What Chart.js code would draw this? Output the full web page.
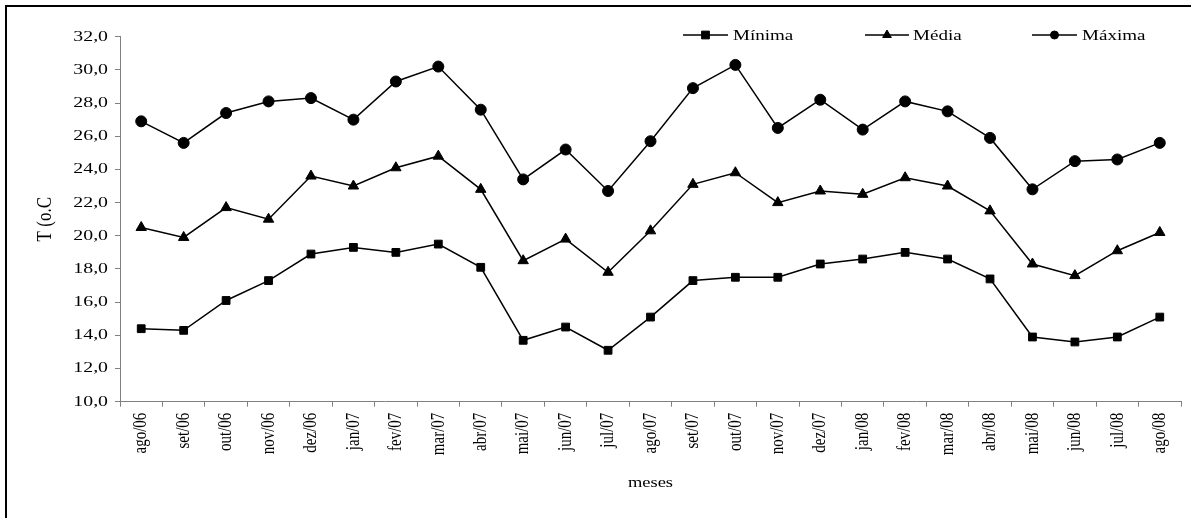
<!DOCTYPE html>
<html>
<head>
<meta charset="utf-8">
<script src="https://cdn.jsdelivr.net/npm/chart.js@4/dist/chart.umd.min.js"></script>
<style>
  html, body { margin: 0; padding: 0; background: #fff; }
  #frame { position: absolute; left: 5px; top: 5px; width: 1200px; height: 530px; border: 2px solid #000; box-sizing: border-box; }
  #wrap { position: absolute; left: 0; top: 0; width: 1191px; height: 518px; }
</style>
</head>
<body>
<div id="frame"></div>
<div id="wrap"><canvas id="c" width="1191" height="518"></canvas></div>
<script>
const categories = ['ago/06','set/06','out/06','nov/06','dez/06','jan/07','fev/07','mar/07','abr/07','mai/07','jun/07','jul/07','ago/07','set/07','out/07','nov/07','dez/07','jan/08','fev/08','mar/08','abr/08','mai/08','jun/08','jul/08','ago/08'];
const minima = [14.4,14.3,16.1,17.3,18.9,19.3,19.0,19.5,18.1,13.7,14.5,13.1,15.1,17.3,17.5,17.5,18.3,18.6,19.0,18.6,17.4,13.9,13.6,13.9,15.1];
const media  = [20.5,19.9,21.7,21.0,23.6,23.0,24.1,24.8,22.8,18.5,19.8,17.8,20.3,23.1,23.8,22.0,22.7,22.5,23.5,23.0,21.5,18.3,17.6,19.1,20.2];
const maxima = [26.9,25.6,27.4,28.1,28.3,27.0,29.3,30.2,27.6,23.4,25.2,22.7,25.7,28.9,30.3,26.5,28.2,26.4,28.1,27.5,25.9,22.8,24.5,24.6,25.6];
const seriesNames = ['Mínima','Média','Máxima'];
const yAxisTitle = 'T (o.C';
const xAxisTitle = 'meses';

const FONT = "'Liberation Serif', 'Times New Roman', serif";
const AXIS_GREY = '#808080';

// draw fn with a horizontal stretch about x = cx
function stretched(ctx, cx, sx, fn) {
  ctx.save();
  ctx.translate(cx, 0);
  ctx.scale(sx, 1);
  ctx.translate(-cx, 0);
  fn();
  ctx.restore();
}

const patchPlugin = {
  id: 'patch',
  afterLayout(chart) {
    const y = chart.scales.y, x = chart.scales.x;
    if (!y._patched) {
      const oL = y.drawLabels;
      y.drawLabels = function (a) {
        const ax = this.right - this.options.grid.tickLength - this.options.ticks.padding;
        stretched(this.ctx, ax, 1.32, () => oL.call(this, a));
      };
      const oT = y.drawTitle;
      y.drawTitle = function (a) {
        const f = Chart.helpers.toFont(this.options.title.font);
        const tx = this.left + f.lineHeight / 2 + this.options.title.padding.top;
        stretched(this.ctx, tx, 1.2, () => oT.call(this, a));
      };
      y._patched = true;
    }
    if (!x._patched) {
      const o = x.drawTitle;
      x.drawTitle = function (a) {
        const cx = (this.left + this.right) / 2;
        stretched(this.ctx, cx, 1.23, () => o.call(this, a));
      };
      x._patched = true;
    }
  }
};

// rotated category labels, drawn at the positions the category scale gives
const xLabelPlugin = {
  id: 'xLabels',
  afterDraw(chart) {
    const x = chart.scales.x, ctx = chart.ctx;
    ctx.save();
    ctx.fillStyle = '#000';
    ctx.font = "15px " + FONT;
    ctx.textAlign = 'right';
    ctx.textBaseline = 'middle';
    categories.forEach((lab, i) => {
      const px = x.getPixelForValue(i);
      ctx.save();
      ctx.translate(px + 0.5, x.top + 11);
      ctx.rotate(-Math.PI / 2);
      ctx.scale(1, 1.2);
      ctx.fillText(lab, 0, 0);
      ctx.restore();
    });
    ctx.restore();
  }
};

const legendItems = [
  { text: seriesNames[0], style: 'rect', r: 5.5, x0: 683, x1: 728, tx: 733 },
  { text: seriesNames[1], style: 'triangle', r: 5, x0: 865, x1: 909, tx: 913 },
  { text: seriesNames[2], style: 'circle', r: 4, x0: 1032, x1: 1077, tx: 1082 }
];

const legendPlugin = {
  id: 'customLegend',
  afterDraw(chart) {
    const ctx = chart.ctx;
    const ly = 35;
    ctx.save();
    ctx.strokeStyle = '#000';
    ctx.fillStyle = '#000';
    legendItems.forEach(it => {
      ctx.lineWidth = 1.5;
      ctx.beginPath();
      ctx.moveTo(it.x0, ly);
      ctx.lineTo(it.x1, ly);
      ctx.stroke();
      ctx.lineWidth = 1;
      Chart.helpers.drawPoint(ctx, { pointStyle: it.style, radius: it.r, rotation: 0, borderWidth: 1 }, (it.x0 + it.x1) / 2, ly);
      ctx.font = "15px " + FONT;
      ctx.textAlign = 'left';
      ctx.textBaseline = 'middle';
      stretched(ctx, it.tx, 1.27, () => ctx.fillText(it.text, it.tx, ly + 1));
    });
    ctx.restore();
  }
};

function ds(label, data, style, r) {
  return {
    label, data,
    borderColor: '#000', backgroundColor: '#000', borderWidth: 1.5,
    pointStyle: style, pointRadius: r, pointHoverRadius: r,
    pointBackgroundColor: '#000', pointBorderColor: '#000', pointBorderWidth: 1,
    tension: 0, fill: false
  };
}

new Chart(document.getElementById('c'), {
  type: 'line',
  data: {
    labels: categories,
    datasets: [
      ds(seriesNames[0], minima, 'rect', 5.5),
      ds(seriesNames[1], media, 'triangle', 6),
      ds(seriesNames[2], maxima, 'circle', 5.5)
    ]
  },
  options: {
    responsive: false,
    animation: false,
    events: [],
    layout: { padding: { left: 0, top: 36.7, right: 10, bottom: 0 } },
    plugins: { legend: { display: false }, tooltip: { enabled: false } },
    scales: {
      x: {
        type: 'category',
        offset: true,
        afterFit(s) { s.height = 116.3; },
        grid: { offset: true, drawOnChartArea: false, drawTicks: true, tickLength: 5, color: AXIS_GREY },
        border: { display: true, color: AXIS_GREY, width: 1 },
        ticks: { display: false, autoSkip: false },
        title: { display: true, text: xAxisTitle, color: '#000', font: { family: FONT, size: 15 }, padding: { top: 0, bottom: 26 } }
      },
      y: {
        min: 10, max: 32,
        afterFit(s) { s.width = 120; },
        grid: { drawOnChartArea: false, drawTicks: true, tickLength: 5, color: AXIS_GREY },
        border: { display: true, color: AXIS_GREY, width: 1 },
        ticks: { stepSize: 2, padding: 7, color: '#000', font: { family: FONT, size: 15 },
          callback: v => Number(v).toFixed(1).replace('.', ',') },
        title: { display: true, text: yAxisTitle, color: '#000', font: { family: FONT, size: 17 }, padding: { top: 35, bottom: 0 } }
      }
    }
  },
  plugins: [patchPlugin, xLabelPlugin, legendPlugin]
});
</script>
</body>
</html>
